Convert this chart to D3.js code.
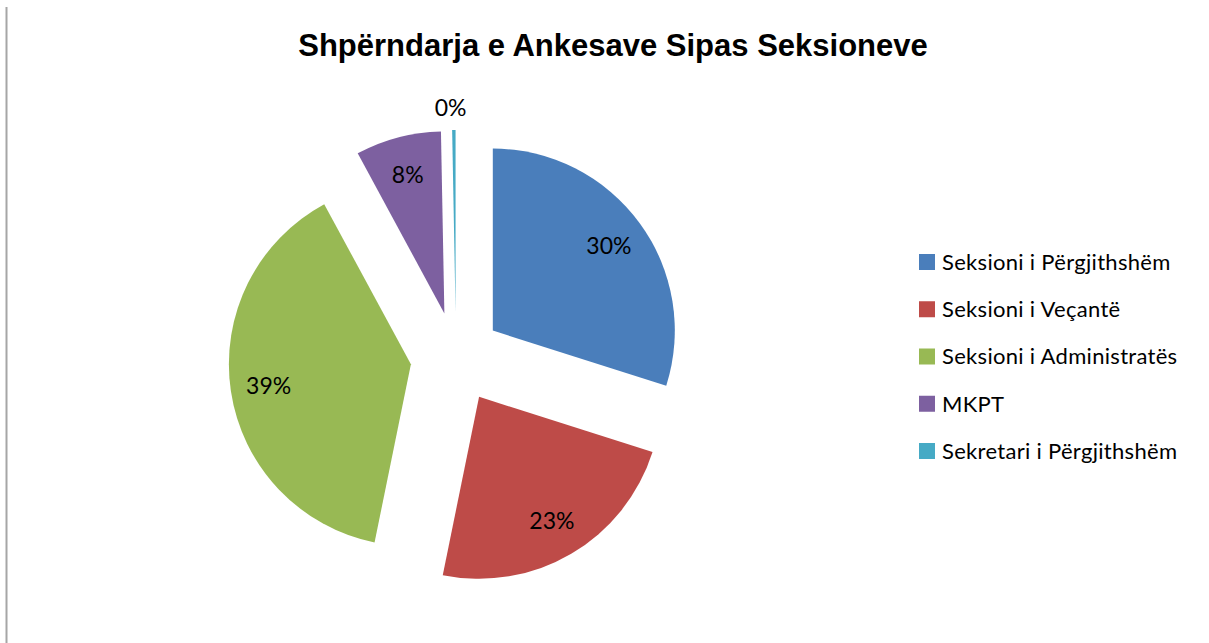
<!DOCTYPE html>
<html>
<head>
<meta charset="utf-8">
<script src="https://cdn.jsdelivr.net/npm/d3@7"></script>
<style>
  html, body { margin: 0; padding: 0; background: #fff; }
  svg { display: block; }
</style>
</head>
<body>
<svg id="chart" width="1209" height="643"></svg>
<script>
const titleText = "Shpërndarja e Ankesave Sipas Seksioneve";
const categories = ["Seksioni i Përgjithshëm", "Seksioni i Veçantë", "Seksioni i Administratës", "MKPT", "Sekretari i Përgjithshëm"];
const values = [29.9, 23.3, 38.9, 7.6, 0.3];
const colors = ["#4A7EBB", "#BE4B48", "#98B954", "#7D60A0", "#46AAC5"];

const svg = d3.select("#chart");
const W = 1209, H = 643;

// left border line
svg.append("line").attr("x1", 6.5).attr("x2", 6.5).attr("y1", 7).attr("y2", H)
  .attr("stroke", "#a6a6a6").attr("stroke-width", 2);

// title
svg.append("text")
  .attr("x", 613).attr("y", 56)
  .attr("text-anchor", "middle")
  .attr("font-family", "'Liberation Sans', Arial, sans-serif")
  .attr("font-weight", "bold")
  .attr("font-size", 31)
  .attr("fill", "#000")
  .text(titleText);

const cx = 456, cy = 357.5, r = 182, explode = 45.6;
const total = d3.sum(values);
const data = categories.map((c, i) => ({ name: c, value: values[i], color: colors[i] }));
const pie = d3.pie().sort(null).value(d => d.value);
const arcs = pie(data);
const arc = d3.arc().innerRadius(0).outerRadius(r);
const labelArc = d3.arc().innerRadius(r * 0.79).outerRadius(r * 0.79);

const g = svg.append("g").attr("transform", `translate(${cx},${cy})`);
const slices = g.selectAll("g.slice").data(arcs).enter().append("g")
  .attr("class", "slice")
  .attr("transform", d => {
    const m = (d.startAngle + d.endAngle) / 2;
    return `translate(${explode * Math.sin(m)},${-explode * Math.cos(m)})`;
  });

slices.append("path").attr("d", arc).attr("fill", d => d.data.color);

slices.append("text")
  .attr("transform", d => {
    const small = (d.endAngle - d.startAngle) < 0.1;
    if (small) {
      const m = (d.startAngle + d.endAngle) / 2;
      const rr = r + 22;
      return `translate(${rr * Math.sin(m) - 3},${-rr * Math.cos(m)})`;
    }
    const c = labelArc.centroid(d);
    return `translate(${c[0]},${c[1]})`;
  })
  .attr("text-anchor", "middle")
  .attr("dy", "0.36em")
  .attr("font-family", "Lato, 'Open Sans', sans-serif")
  .attr("font-size", 23)
  .attr("fill", "#000")
  .text(d => Math.round(d.data.value / total * 100) + "%");

// legend
const legend = svg.append("g").attr("transform", "translate(919,0)");
const rowY = d3.scalePoint().domain(categories).range([262, 451]);
const items = legend.selectAll("g").data(data).enter().append("g")
  .attr("transform", d => `translate(0,${rowY(d.name)})`);
items.append("rect").attr("x", 0).attr("y", -8).attr("width", 16).attr("height", 16)
  .attr("fill", d => d.color);
items.append("text").attr("x", 23).attr("dy", "0.36em")
  .attr("font-family", "Lato, 'Open Sans', sans-serif")
  .attr("font-size", 22)
  .attr("letter-spacing", 0.3)
  .attr("fill", "#000")
  .text(d => d.name);
</script>
</body>
</html>
